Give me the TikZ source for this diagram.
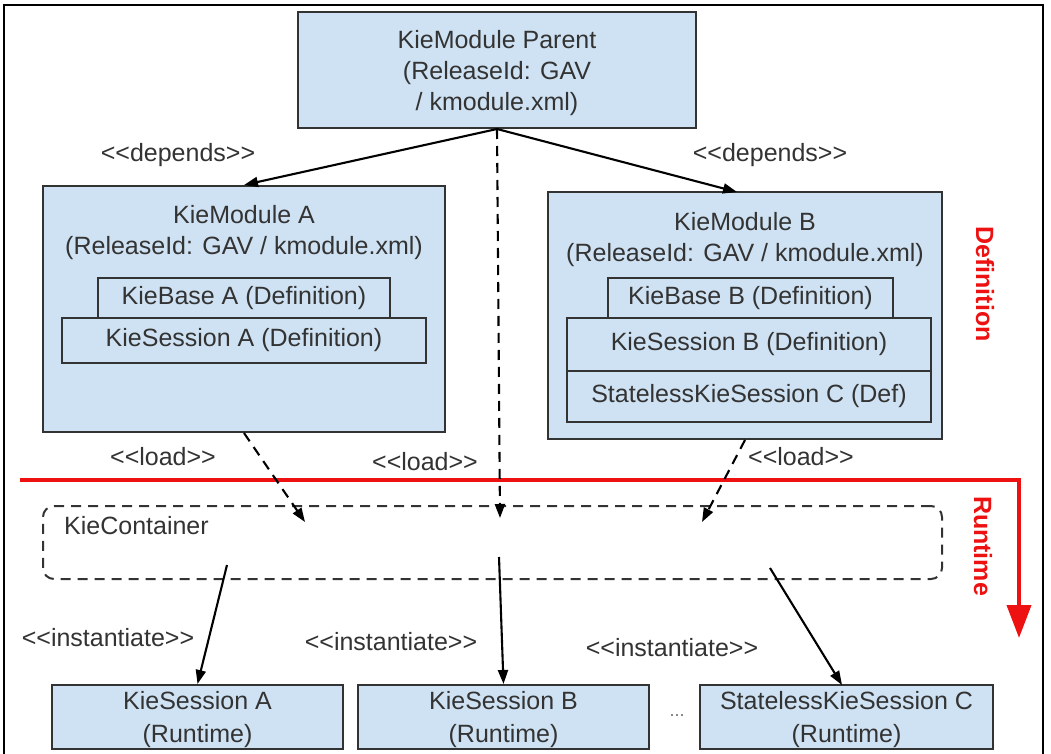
\documentclass[tikz,border=0pt]{standalone}
\usepackage{fontspec}
\setmainfont{Liberation Sans}
\usetikzlibrary{arrows.meta}
\definecolor{boxfill}{HTML}{CFE2F3}
\definecolor{ink}{HTML}{333333}
\definecolor{redline}{HTML}{EE1111}
\tikzset{
  txt/.style={text=ink, font=\fontsize{25}{31}\selectfont, align=center, inner sep=0pt},
  box/.style={draw=ink, line width=2pt, fill=boxfill, inner sep=0pt, txt},
  lbl/.style={txt},
  side/.style={text=redline, font=\fontsize{25}{30}\selectfont\bfseries, rotate=-90, inner sep=0pt},
  arr/.style={draw=black, line width=2.1pt, -{Triangle[length=14pt,width=10pt]}},
  darr/.style={arr, dash pattern=on 10pt off 7pt},
}
\begin{document}
\begin{tikzpicture}[x=1pt,y=-1pt]
\useasboundingbox (0,0) rectangle (1051,754);
% outer frame
\draw[line width=2pt, draw=black] (4,760) -- (4,5) -- (1043,5) -- (1043,760);

% top module
\node[box, minimum width=398pt, minimum height=116pt] (parent) at (497,70) {};
\node[lbl] (parentt) at (497,73) {KieModule Parent\\(ReleaseId: GAV\\/ kmodule.xml)};

% module A
\node[box, minimum width=402pt, minimum height=246pt] (modA) at (244,309) {};
\node[lbl] (modAt) at (244,233) {KieModule A\\(ReleaseId: GAV / kmodule.xml)};
\node[box, minimum width=292pt, minimum height=40pt] (kbA) at (244,298) {KieBase A (Definition)};
\node[box, minimum width=364pt, minimum height=45pt] (ksA) at (244,340.5) {KieSession A (Definition)};

% module B
\node[box, minimum width=394pt, minimum height=247pt] (modB) at (745,315.5) {};
\node[lbl] (modBt) at (745,240) {KieModule B\\(ReleaseId: GAV / kmodule.xml)};
\node[box, minimum width=285pt, minimum height=40pt] (kbB) at (750.5,298) {KieBase B (Definition)};
\node[box, minimum width=364pt, minimum height=53pt] (ksB) at (749,344.5) {KieSession B (Definition)};
\node[box, minimum width=364pt, minimum height=51pt] (slC) at (749,396.5) {StatelessKieSession C (Def)};

% side labels
\node[side] (defn) at (985,284) {Definition};
\node[side] (runt) at (983,546) {Runtime};

% red divider arrow
\coordinate (r1) at (20,480);
\coordinate (r2) at (1019,480);
\coordinate (r3) at (1019,638);
\draw[redline, line width=4pt, line join=miter, -{Triangle[length=33pt,width=24pt]}] (r1) -- (r2) -- (r3);

% container
\node[draw=ink, line width=2pt, dash pattern=on 10pt off 7pt, rounded corners=11pt,
      minimum width=899pt, minimum height=73pt, inner sep=0pt] (cont) at (492.5,542.5) {};
\node[lbl, anchor=west] (contl) at (64,526) {KieContainer};

% runtime sessions
\tikzset{rt/.style={box, font=\fontsize{25}{33}\selectfont, minimum height=64pt}}
\node[rt, minimum width=291pt] (sA) at (197.5,717) {};
\node[rt, minimum width=291pt] (sB) at (503.5,717) {};
\node[rt, minimum width=293pt] (sC) at (846.5,717) {};
\node[lbl, font=\fontsize{25}{33}\selectfont] (sAt) at (197.5,720) {KieSession A\\(Runtime)};
\node[lbl, font=\fontsize{25}{33}\selectfont] (sBt) at (503.5,720) {KieSession B\\(Runtime)};
\node[lbl, font=\fontsize{25}{33}\selectfont] (sCt) at (846.5,720) {StatelessKieSession C\\(Runtime)};
\node[text=ink!70, font=\fontsize{18}{20}\selectfont, inner sep=0pt] (dots) at (677,716) {...};

% labels
\node[lbl] (depA) at (178,155) {<{}<depends>{}>};
\node[lbl] (depB) at (770,155) {<{}<depends>{}>};
\node[lbl] (ldA) at (163,457) {<{}<load>{}>};
\node[lbl] (ldM) at (425,462) {<{}<load>{}>};
\node[lbl] (ldB) at (801,457) {<{}<load>{}>};
\node[lbl] (inA) at (108,638) {<{}<instantiate>{}>};
\node[lbl] (inB) at (391,642) {<{}<instantiate>{}>};
\node[lbl] (inC) at (672,648) {<{}<instantiate>{}>};

% depends arrows
\coordinate (mBt) at (737,192);
\draw[arr] (parent.south) -- (modA.north);
\draw[arr] (parent.south) -- (mBt);

% load arrows
\coordinate (cA) at (305,522);
\coordinate (cM) at (500,518);
\coordinate (cB) at (702,522);
\draw[darr] (modA.south) -- (cA);
\draw[darr] (parent.south) -- (cM);
\draw[darr] (modB.south) -- (cB);

% instantiate arrows
\coordinate (iA) at (227,565);
\coordinate (iM) at (499,557);
\coordinate (iB) at (770,568);
\coordinate (sCn) at (842,685);
\draw[arr] (iA) -- (sA.north);
\draw[arr] (iM) -- (sB.north);
\draw[arr] (iB) -- (sCn);
\end{tikzpicture}
\end{document}
